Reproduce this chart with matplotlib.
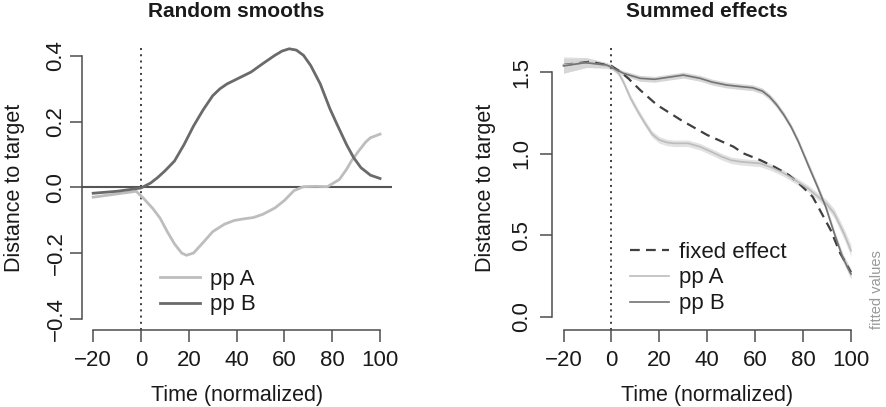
import numpy as np
import matplotlib
matplotlib.use("Agg")
import matplotlib.pyplot as plt

plt.rcParams['font.family'] = ['Liberation Sans', 'DejaVu Sans']

# --- left panel: random smooths ---
tA_left = [-20, -10, -2, 1, 5, 8, 11, 14, 17, 19, 22, 26, 30, 35, 39, 43, 47, 51, 56, 60,
           64, 68, 73, 78, 83, 86, 88, 91, 94, 96, 100]
ppA_left = [-0.03, -0.02, -0.012, -0.033, -0.065, -0.094, -0.135, -0.172, -0.2, -0.207,
            -0.2, -0.168, -0.135, -0.112, -0.101, -0.096, -0.092, -0.082, -0.063, -0.04,
            -0.01, 0.002, 0.003, 0.002, 0.024, 0.055, 0.08, 0.11, 0.138, 0.151, 0.162]
tB_left = [-20, -10, 0, 4, 7, 10, 14, 18, 22, 26, 30, 33, 36, 41, 46, 51, 56, 59, 62, 65,
           68, 71, 75, 79, 82, 86, 89, 92, 96, 100]
ppB_left = [-0.018, -0.012, -0.002, 0.013, 0.03, 0.05, 0.08, 0.13, 0.187, 0.236, 0.279,
            0.3, 0.315, 0.333, 0.351, 0.377, 0.402, 0.415, 0.422, 0.418, 0.402, 0.371,
            0.315, 0.24, 0.192, 0.13, 0.09, 0.06, 0.037, 0.027]

# --- right panel: summed effects ---
t_fixed = [-20, -9, 0, 4, 7, 12, 19, 29, 40, 51, 55, 62, 68, 74, 79, 84, 87, 91.5, 95.5, 100]
fixed = [1.545, 1.565, 1.539, 1.5, 1.463, 1.391, 1.30, 1.207, 1.115, 1.043, 1.003, 0.962,
         0.92, 0.87, 0.808, 0.736, 0.655, 0.532, 0.389, 0.272]
tA_right = [-20, -10, 0, 3, 5, 8, 11, 14, 17, 20, 23, 26, 32, 37, 42, 46, 50, 54, 62,
            67, 72, 77, 82, 87, 90, 93, 97, 100]
ppA_right = [1.545, 1.56, 1.535, 1.494, 1.44, 1.34, 1.26, 1.187, 1.12, 1.085, 1.07,
             1.064, 1.064, 1.043, 1.01, 0.982, 0.96, 0.951, 0.941, 0.915, 0.88, 0.835,
             0.788, 0.727, 0.69, 0.634, 0.512, 0.405]
ppA_se = [0.05, 0.03, 0.015, 0.015, 0.018, 0.02, 0.02, 0.02, 0.02, 0.02, 0.02, 0.02,
          0.02, 0.02, 0.02, 0.02, 0.02, 0.02, 0.02, 0.02, 0.02, 0.02, 0.02, 0.022,
          0.025, 0.028, 0.032, 0.035]
tB_right = [-20, -11, -2, 5, 12, 18, 24, 30, 37, 42, 48, 54, 59, 63, 66, 69, 72, 75, 78,
            82, 86, 89.5, 93, 96.5, 100]
ppB_right = [1.539, 1.559, 1.545, 1.494, 1.463, 1.457, 1.47, 1.483, 1.463, 1.44,
             1.422, 1.412, 1.405, 1.385, 1.35, 1.3, 1.238, 1.165, 1.075, 0.935, 0.798,
             0.672, 0.512, 0.365, 0.262]
ppB_se = [0.045, 0.03, 0.015, 0.015, 0.018, 0.018, 0.018, 0.018, 0.018, 0.018, 0.018,
          0.018, 0.018, 0.018, 0.018, 0.018, 0.018, 0.018, 0.018, 0.02, 0.02, 0.02,
          0.022, 0.025, 0.03]

x_ticks = [-20, 0, 20, 40, 60, 80, 100]
yticks_left = [-0.4, -0.2, 0.0, 0.2, 0.4]
yticks_right = [0.0, 0.5, 1.0, 1.5]

axis_col = '#4d4d4d'
text_col = '#1a1a1a'
light = '#bdbdbd'
dark = '#6a6a6a'

W, H = 886, 407
fig = plt.figure(figsize=(W / 100, H / 100), dpi=100)
bottom_px, top_px = 329.5, 45.5
ax1 = fig.add_axes([81.7 / W, (H - bottom_px) / H, 309.8 / W, (bottom_px - top_px) / H])
ax2 = fig.add_axes([552.0 / W, (H - bottom_px) / H, 310.5 / W, (bottom_px - top_px) / H])


def style_axis(ax, yticks, ylab_x, ypad):
    for s in ['top', 'right']:
        ax.spines[s].set_visible(False)
    for s in ['left', 'bottom']:
        ax.spines[s].set_color(axis_col)
        ax.spines[s].set_linewidth(1.1)
    ax.spines['bottom'].set_bounds(-20, 100)
    ax.spines['left'].set_bounds(yticks[0], yticks[-1])
    ax.set_xticks(x_ticks)
    ax.set_xticklabels([str(v) if v >= 0 else '\u2212' + str(-v) for v in x_ticks])
    ax.set_yticks(yticks)
    ax.set_yticklabels(['%.1f' % v if v >= 0 else '\u2212%.1f' % -v for v in yticks],
                       rotation=90, va='center')
    ax.tick_params(direction='out', length=8.5, width=1.1, color=axis_col,
                   labelsize=16, labelcolor=text_col)
    ax.tick_params(axis='x', pad=6.5)
    ax.tick_params(axis='y', pad=ypad)
    ax.set_xlim(-24.8, 104.8)
    ax.set_xlabel('Time (normalized)', fontsize=15.5, color=text_col, va='center')
    ax.xaxis.set_label_coords(0.5, -(396 - bottom_px) / (bottom_px - top_px))
    ax.set_ylabel('Distance to target', fontsize=15.5, color=text_col, va='center', ha='center')
    ax.yaxis.set_label_coords(ylab_x, 0.5)
    ax.axvline(0, color='#3c3c3c', lw=1.4, linestyle=(0, (1, 2.2)))


# left panel
ax1.set_ylim(-0.433, 0.432)
style_axis(ax1, yticks_left, -(81.7 - 15) / 309.8, 2.5)
ax1.axhline(0, color='#555555', lw=1.5)
ax1.plot(tA_left, ppA_left, color=light, lw=2.0, label='pp A')
ax1.plot(tB_left, ppB_left, color=dark, lw=2.0, label='pp B')
ax1.set_title('Random smooths', fontsize=15, fontweight='bold', color=text_col,
              y=1 + 25.5 / (bottom_px - top_px), va='center')
ax1.legend(loc='center left', bbox_to_anchor=((160 - 81.7) / 309.8, (bottom_px - 292) / (bottom_px - top_px)),
           frameon=False, fontsize=16, handlelength=1.8, handletextpad=0.45,
           labelspacing=0.22, borderpad=0, borderaxespad=0, labelcolor=text_col)

# right panel
ax2.set_ylim(-0.0786, 1.6645)
style_axis(ax2, yticks_right, -(552.0 - 486) / 310.5, 5.5)
ax2.fill_between(tA_right, np.array(ppA_right) - ppA_se, np.array(ppA_right) + ppA_se,
                 color='#e2e2e2', lw=0)
ax2.fill_between(tB_right, np.array(ppB_right) - ppB_se, np.array(ppB_right) + ppB_se,
                 color='#d6d6d6', lw=0)
ax2.plot(t_fixed, fixed, color='#404040', lw=1.6, linestyle=(0, (4.4, 2.8)), label='fixed effect')
ax2.plot(tA_right, ppA_right, color='#bcbcbc', lw=1.2, label='pp A')
ax2.plot(tB_right, ppB_right, color='#737373', lw=1.2, label='pp B')
ax2.set_title('Summed effects', fontsize=15, fontweight='bold', color=text_col,
              y=1 + 25.5 / (bottom_px - top_px), va='center')
ax2.legend(loc='center left', bbox_to_anchor=((630 - 552.0) / 310.5, (bottom_px - 278) / (bottom_px - top_px)),
           frameon=False, fontsize=16, handlelength=1.75, handletextpad=0.45,
           labelspacing=0.22, borderpad=0, borderaxespad=0, labelcolor=text_col)

fig.text(877 / W, (H - 290) / H, 'fitted values', rotation=90, fontsize=10.5,
         color='#999999', ha='center', va='center')

fig.savefig('out.png', dpi=100)
